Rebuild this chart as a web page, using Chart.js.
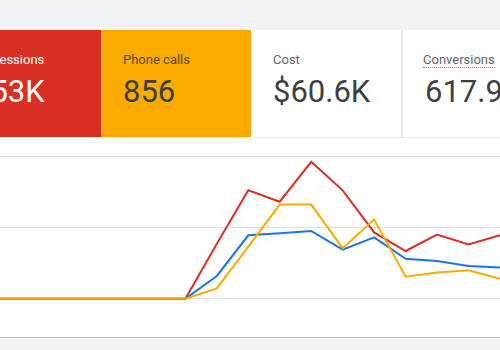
<!DOCTYPE html>
<html>
<head>
<meta charset="utf-8">
<script src="https://cdn.jsdelivr.net/npm/chart.js@4"></script>
<style>
    html, body { margin: 0; padding: 0; }
    body {
        width: 500px;
        height: 350px;
        overflow: hidden;
        position: relative;
        background: #f1f3f4;
        font-family: Roboto, Arial, sans-serif;
    }
    .card {
        position: absolute;
        top: 30px;
        height: 107px;
        width: 150px;
        box-sizing: border-box;
        background: #fff;
    }
    .card .label {
        position: absolute;
        left: 22px;
        top: 52px;
        font-size: 13px;
        line-height: 16px;
        color: #5f6368;
        white-space: nowrap;
    }
    .card .value {
        position: absolute;
        left: 22px;
        top: 74px;
        font-size: 31px;
        line-height: 36px;
        color: #3c4043;
        white-space: nowrap;
    }
    .card .label, .card .value { margin-top: -30px; }
    #impressions { left: -49px; background: #d93025; }
    #impressions .label, #impressions .value { color: #fff; }
    #calls { left: 101px; background: #f9ab00; }
    #calls .label { color: #5a4a1e; }
    #cost { left: 251px; }
    #conversions { left: 401px; border-left: 2px solid #e8eaed; }
    #conversions .label { left: 20px; border-bottom: 1px dotted #4285f4; line-height: 15px; }
    #chartBox {
        position: absolute;
        left: 0;
        top: 137px;
        width: 500px;
        height: 199px;
        background: #fff;
        border-top: 1px solid #e8eaed;
        border-bottom: 1px solid #bdc1c6;
    }
</style>
</head>
<body>
    <div class="card" id="impressions"><div class="label">Impressions</div><div class="value">153K</div></div>
    <div class="card" id="calls"><div class="label">Phone calls</div><div class="value">856</div></div>
    <div class="card" id="cost"><div class="label">Cost</div><div class="value">$60.6K</div></div>
    <div class="card" id="conversions"><div class="label">Conversions</div><div class="value">617.9</div></div>
    <div id="chartBox"><canvas id="trendChart" width="500" height="199"></canvas></div>

<script>
// Day index along the x axis
const days = [0, 1, 2, 3, 4, 5, 6, 7, 8, 9, 10, 11, 12, 13, 14, 15, 16];

// Relative series values (one gridline = 1)
const impressions = [0, 0, 0, 0, 0, 0, 0, 0.77, 1.52, 1.36, 1.92, 1.52, 0.93, 0.67, 0.90, 0.76, 0.89];
const clicks = [0, 0, 0, 0, 0, 0, 0, 0.32, 0.89, 0.92, 0.95, 0.69, 0.86, 0.56, 0.53, 0.46, 0.44];
const phoneCalls = [0, 0, 0, 0, 0, 0, 0, 0.145, 0.73, 1.32, 1.32, 0.71, 1.11, 0.31, 0.37, 0.40, 0.28];

// Gridline values
const gridTicks = [0, 1, 2];

function toPoints(values) {
    return values.map((v, i) => ({ x: days[i], y: v }));
}

document.addEventListener('DOMContentLoaded', function() {
    const ctx = document.getElementById('trendChart').getContext('2d');
    new Chart(ctx, {
        type: 'line',
        data: {
            datasets: [
                { label: 'Phone calls', data: toPoints(phoneCalls), borderColor: '#f9ab00' },
                { label: 'Clicks', data: toPoints(clicks), borderColor: '#1a73e8' },
                { label: 'Impressions', data: toPoints(impressions), borderColor: '#d93025' }
            ]
        },
        options: {
            responsive: false,
            animation: false,
            layout: { padding: 0 },
            elements: {
                line: { borderWidth: 2, tension: 0, fill: false },
                point: { radius: 0, hoverRadius: 0 }
            },
            plugins: {
                legend: { display: false },
                tooltip: { enabled: false }
            },
            scales: {
                x: {
                    type: 'linear',
                    min: 0.108,
                    max: 16,
                    display: false
                },
                y: {
                    min: -0.535,
                    max: 2.253,
                    border: { display: false },
                    grid: { color: '#e0e0e0', lineWidth: 1, drawTicks: false },
                    ticks: { display: false },
                    afterBuildTicks: function(scale) {
                        scale.ticks = gridTicks.map(v => ({ value: v }));
                    }
                }
            }
        }
    });
});
</script>
</body>
</html>
